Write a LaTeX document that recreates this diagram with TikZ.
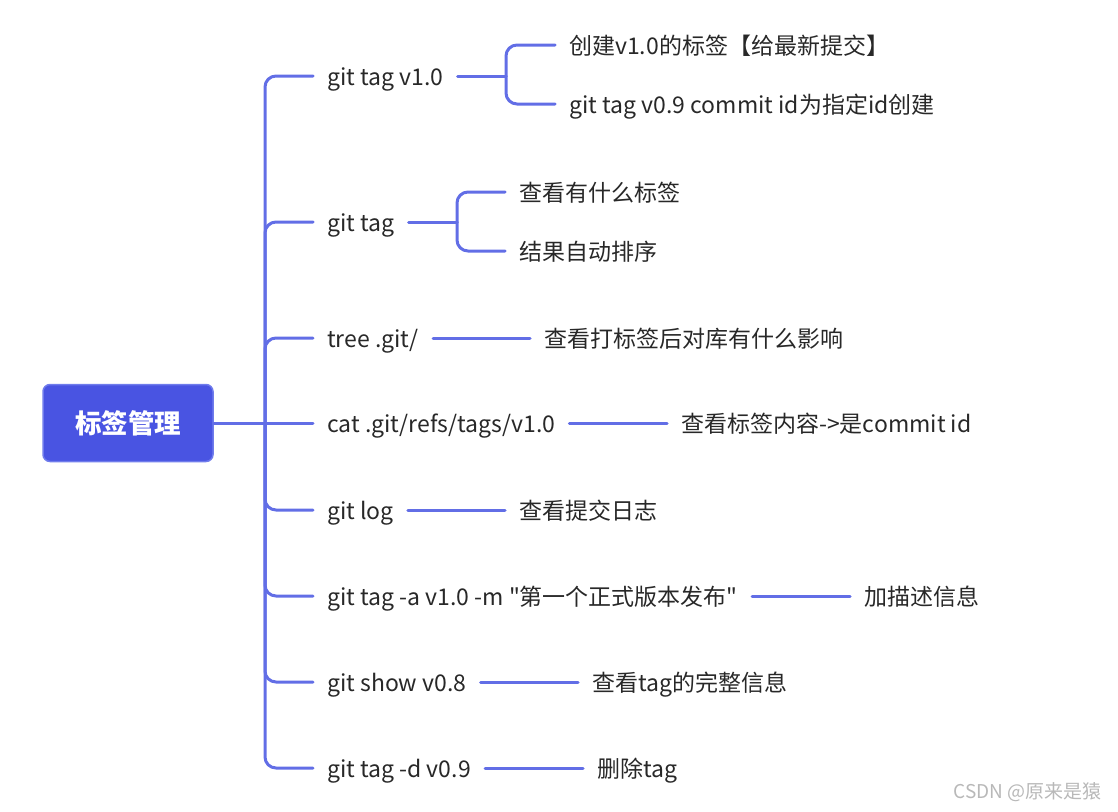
\documentclass[tikz,border=0pt]{standalone}
\usepackage{fontspec}
\setmainfont{Noto Sans CJK SC}[Ligatures=TeXOff]
\definecolor{conn}{RGB}{98,110,230}
\definecolor{rootfill}{RGB}{73,84,226}
\definecolor{rootdraw}{RGB}{112,124,236}
\definecolor{txt}{RGB}{40,40,40}
\begin{document}
\begin{tikzpicture}[x=1pt,y=-1pt,
  leaf/.style={anchor=west,inner xsep=14pt,inner ysep=0pt,text height=20pt,text depth=2pt,
    font=\fontsize{23pt}{27pt}\selectfont,text=txt},
  link/.style={draw=conn,line width=3pt,rounded corners=11pt,line cap=round},
  rootbox/.style={fill=rootfill,draw=rootdraw,line width=1.5pt,rounded corners=7pt,
    minimum width=170pt,minimum height=77pt,text=white,font=\fontsize{26.5pt}{30pt}\selectfont\bfseries}]
\useasboundingbox (0,0) rectangle (1118,811);
\node[rootbox] (root) at (128,423) {标签管理};
\coordinate (j) at (265,423);
\node[leaf] (b1) at (313,76) {git tag v1.0};
\node[leaf] (b2) at (313,222) {git tag};
\node[leaf] (b3) at (313,338) {tree .git/};
\node[leaf] (b4) at (313,423) {cat .git/refs/tags/v1.0};
\node[leaf] (b5) at (313,510) {git log};
\node[leaf] (b6) at (313,596) {git tag -a v1.0 -m "第一个正式版本发布"};
\node[leaf] (b7) at (313,682) {git show v0.8};
\node[leaf] (b8) at (313,768) {git tag -d v0.9};
\node[leaf] (c11) at (555,45) {创建v1.0的标签【给最新提交】};
\node[leaf] (c12) at (555,104) {git tag v0.9 commit id为指定id创建};
\node[leaf] (c21) at (505,192) {查看有什么标签};
\node[leaf] (c22) at (505,251) {结果自动排序};
\node[leaf] (c3) at (530,338) {查看打标签后对库有什么影响};
\node[leaf] (c4) at (667,423) {查看标签内容->是commit id};
\node[leaf] (c5) at (505,510) {查看提交日志};
\node[leaf] (c6) at (850,596) {加描述信息};
\node[leaf] (c7) at (578,682) {查看tag的完整信息};
\node[leaf] (c8) at (583,768) {删除tag};
\coordinate (f1) at (506,76);
\coordinate (f2) at (457,222);
% trunk and branches
\draw[link] (root.east) -- (b4.west);
\foreach \b in {b1,b2,b3,b5,b6,b7,b8} {\draw[link] (j) |- (\b.west);}
% sub branches
\draw[link] (b1.east) -- (f1);
\draw[link] (f1) |- (c11.west);
\draw[link] (f1) |- (c12.west);
\draw[link] (b2.east) -- (f2);
\draw[link] (f2) |- (c21.west);
\draw[link] (f2) |- (c22.west);
\draw[link] (b3.east) -- (c3.west);
\draw[link] (b4.east) -- (c4.west);
\draw[link] (b5.east) -- (c5.west);
\draw[link] (b6.east) -- (c6.west);
\draw[link] (b7.east) -- (c7.west);
\draw[link] (b8.east) -- (c8.west);
\node[anchor=east,inner sep=0pt,text=black!28,font=\fontsize{19pt}{22pt}\selectfont] (wm) at (1102,792) {CSDN @原来是猿};
\end{tikzpicture}
\end{document}
